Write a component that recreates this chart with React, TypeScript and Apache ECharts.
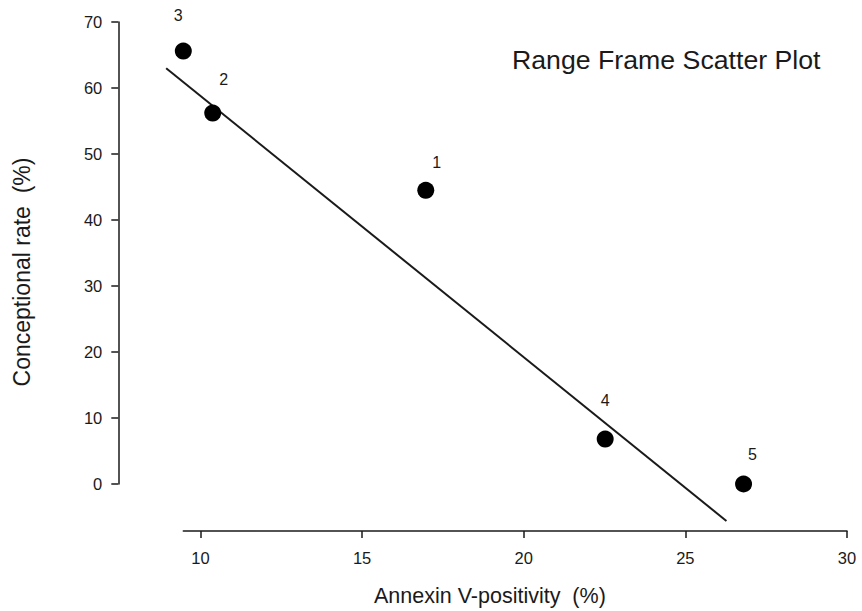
import React, { useEffect, useRef } from "react";
import * as echarts from "echarts";

// Data points (Annexin V-positivity %, Conceptional rate %)
const pointIds = ["1", "2", "3", "4", "5"];
const xs = [16.97, 10.38, 9.47, 22.52, 26.8];
const ys = [44.5, 56.2, 65.6, 6.8, 0.0];

// Fitted line endpoints
const lineXs = [8.94, 26.27];
const lineYs = [63.0, -5.6];

const xTicks = [10, 15, 20, 25, 30];
const yMin = 0;
const yMax = 70;
const yInterval = 10;

const titleText = "Range Frame Scatter Plot";
const xTitle = "Annexin V-positivity  (%)";
const yTitle = "Conceptional rate  (%)";

// label offsets (style)
const labelOffsets: [number, number][] = [
  [11, -28],
  [11, -34],
  [-5, -36],
  [0, -39],
  [9, -30],
];

const FONT = "Liberation Sans, Arial, Helvetica, sans-serif";
const INK = "#1a1a1a";

// layout of the frame grid (pixels)
const W = 862;
const H = 611;
const frameLeft = 183.3;
const frameRight = 15;
const frameTop = 22;
const frameBottom = 127;

export default function App() {
  const ref = useRef<HTMLDivElement>(null);
  useEffect(() => {
    if (!ref.current) return;
    const chart = echarts.init(ref.current, null, { renderer: "svg" });
    const xMin = Math.min(...xs);
    const xMax = Math.max(...xTicks);
    // plotting grid extended to hold the whole fitted line, same scale as the frame
    const pxPerX = (W - frameRight - frameLeft) / (xMax - xMin);
    const pxPerY = (H - frameBottom - frameTop) / (yMax - yMin);
    const pMinX = Math.min(xMin, ...lineXs);
    const pMinY = Math.min(yMin, ...lineYs);
    const plotLeft = frameLeft - (xMin - pMinX) * pxPerX;
    const plotBottom = frameBottom - (yMin - pMinY) * pxPerY;

    chart.setOption({
      animation: false,
      backgroundColor: "#ffffff",
      title: {
        text: titleText,
        left: 507,
        top: 41,
        textStyle: { fontFamily: FONT, fontSize: 26.7, fontWeight: "normal", color: INK },
      },
      grid: [
        { left: frameLeft, right: frameRight, top: frameTop, bottom: frameBottom },
        { left: plotLeft, right: frameRight, top: frameTop, bottom: plotBottom },
      ],
      xAxis: [
        {
          type: "value",
          gridIndex: 0,
          min: xMin,
          max: xMax,
          offset: 47,
          splitLine: { show: false },
          axisLine: { show: true, onZero: false, lineStyle: { color: INK, width: 1.5 } },
          axisTick: { show: true, inside: false, length: 7, customValues: xTicks, lineStyle: { color: INK, width: 1.5 } },
          axisLabel: { customValues: xTicks, margin: 18, fontFamily: FONT, fontSize: 16.5, color: INK },
        },
        {
          type: "value",
          gridIndex: 1,
          min: pMinX,
          max: xMax,
          show: false,
        },
      ],
      yAxis: [
        {
          type: "value",
          gridIndex: 0,
          min: yMin,
          max: yMax,
          interval: yInterval,
          offset: 65,
          splitLine: { show: false },
          axisLine: { show: true, onZero: false, lineStyle: { color: INK, width: 1.5 } },
          axisTick: { show: true, inside: false, length: 7, lineStyle: { color: INK, width: 1.5 } },
          axisLabel: { margin: 16, fontFamily: FONT, fontSize: 16.5, color: INK },
        },
        {
          type: "value",
          gridIndex: 1,
          min: pMinY,
          max: yMax,
          show: false,
        },
      ],
      graphic: [
        {
          type: "text",
          left: 374,
          top: 585,
          style: { text: xTitle, font: `21.5px ${FONT}`, fill: INK },
        },
        {
          type: "text",
          x: 22,
          y: 272,
          rotation: Math.PI / 2,
          style: {
            text: yTitle,
            font: `23px ${FONT}`,
            fill: INK,
            textAlign: "center",
            textVerticalAlign: "middle",
          },
        },
      ],
      series: [
        {
          type: "line",
          xAxisIndex: 1,
          yAxisIndex: 1,
          data: lineXs.map((x, i) => [x, lineYs[i]]),
          clip: false,
          symbol: "none",
          lineStyle: { color: INK, width: 2 },
          z: 1,
        },
        {
          type: "scatter",
          xAxisIndex: 1,
          yAxisIndex: 1,
          clip: false,
          symbolSize: 17,
          itemStyle: { color: "#000000", opacity: 1 },
          data: xs.map((x, i) => ({
            value: [x, ys[i]],
            name: pointIds[i],
            label: {
              show: true,
              formatter: pointIds[i],
              position: "inside",
              offset: labelOffsets[i],
              fontFamily: FONT,
              fontSize: 16,
              color: INK,
              textBorderWidth: 0,
            },
          })),
          z: 2,
        },
      ],
    });
    return () => chart.dispose();
  }, []);
  return (
    <div
      ref={ref}
      style={{ position: "absolute", left: 0, top: 0, width: W, height: H }}
    />
  );
}
